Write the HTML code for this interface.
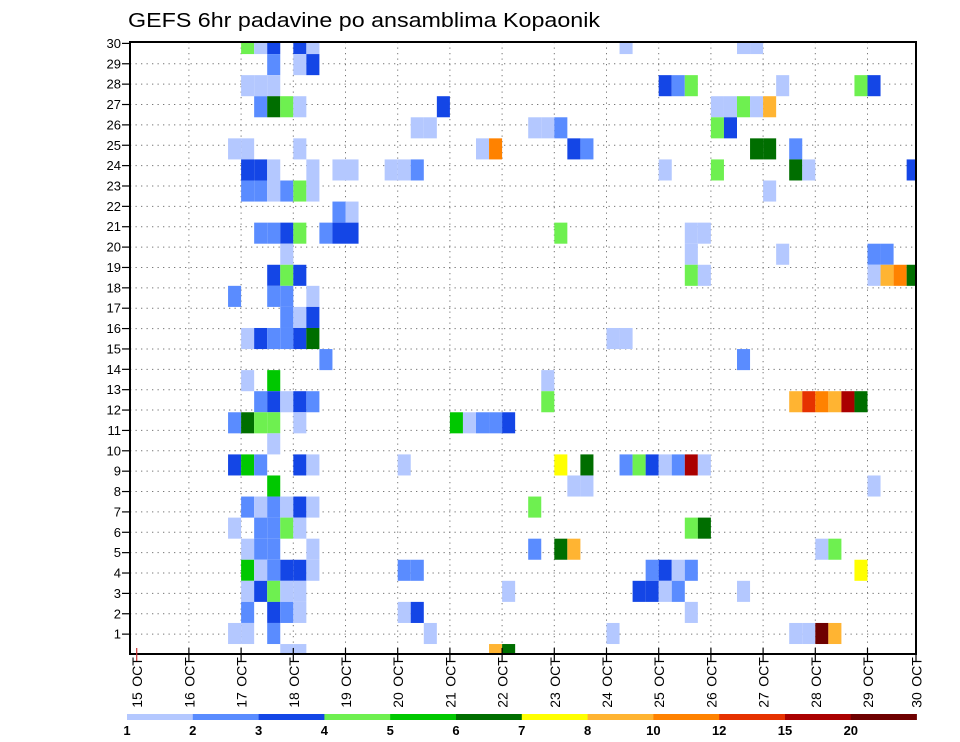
<!DOCTYPE html>
<html>
<head>
<meta charset="utf-8">
<style>
  html, body { margin: 0; padding: 0; background: #fff; }
  svg { display: block; font-family: "Liberation Sans", sans-serif; }
</style>
</head>
<body>
<svg id="chart" width="960" height="742" viewBox="0 0 960 742" xmlns="http://www.w3.org/2000/svg">
  <rect x="0" y="0" width="960" height="742" fill="#fff"/>
  <text x="128" y="27" font-size="20" textLength="472" lengthAdjust="spacingAndGlyphs" fill="#000">GEFS 6hr padavine po ansamblima Kopaonik</text>
  <defs>
    <clipPath id="plotClip"><rect x="130" y="42" width="786" height="612"/></clipPath>
  </defs>
  <g id="grid"></g>
  <g id="cells" clip-path="url(#plotClip)"></g>
  <rect x="130" y="42" width="786" height="612" fill="none" stroke="#000" stroke-width="2"/>
  <g id="yaxis"></g>
  <g id="xaxis"></g>
  <g id="legend"></g>
</svg>
<script>
// ---- chart data ----
const members = [29,28,27,26,25,24,23,22,21,20,19,18,17,16,15,14,13,12,11,10,9,8,7,6,5,4,3,2,1,0];
const stepsByMember = [
  [8,9,10,12,13,37,46,47],
  [10,12,13],
  [8,9,10,40,41,42,49,55,56],
  [9,10,11,12,23,44,45,46,47,48],
  [21,22,30,31,32,44,45],
  [7,8,12,26,27,33,34,47,48,50],
  [8,9,10,13,15,16,19,20,21,40,44,50,51,59],
  [8,9,10,11,12,13,48],
  [15,16],
  [9,10,11,12,14,15,16,32,42,43],
  [11,42,49,56,57],
  [10,11,12,42,43,56,57,58,59],
  [7,10,11,13],
  [11,12,13],
  [8,9,10,11,12,13,36,37],
  [14,46],
  [8,10,31],
  [9,10,11,12,13,31,50,51,52,53,54,55],
  [7,8,9,10,12,24,25,26,27,28],
  [10],
  [7,8,9,12,13,20,32,34,37,38,39,40,41,42,43],
  [10,33,34,56],
  [8,9,10,11,12,13,30],
  [7,9,10,11,12,42,43],
  [8,9,10,13,30,32,33,52,53],
  [8,9,10,11,12,13,20,21,39,40,41,42,55],
  [8,9,10,11,12,28,38,39,40,41,46],
  [8,10,11,12,20,21,42],
  [7,8,10,22,36,50,51,52,53],
  [11,12,27,28]
];
const precipByMember = [
  [4.5,1.5,3.5,3.5,1.5,1.5,1.5,1.5],
  [2.5,1.5,3.5],
  [1.5,1.5,1.5,3.5,2.5,4.5,1.5,4.5,3.5],
  [2.5,6.5,4.5,1.5,3.5,1.5,1.5,4.5,1.5,9],
  [1.5,1.5,1.5,1.5,2.5,4.5,3.5],
  [1.5,1.5,1.5,1.5,11,3.5,2.5,6.5,6.5,2.5],
  [3.5,3.5,1.5,1.5,1.5,1.5,1.5,1.5,2.5,1.5,4.5,6.5,1.5,3.5],
  [2.5,2.5,1.5,2.5,4.5,1.5,1.5],
  [2.5,1.5],
  [2.5,2.5,3.5,4.5,2.5,3.5,3.5,4.5,1.5,1.5],
  [1.5,1.5,1.5,2.5,2.5],
  [3.5,4.5,3.5,4.5,1.5,1.5,9,11,6.5],
  [2.5,2.5,2.5,1.5],
  [2.5,1.5,3.5],
  [1.5,3.5,2.5,2.5,3.5,6.5,1.5,1.5],
  [2.5,2.5],
  [1.5,5.5,1.5],
  [2.5,3.5,1.5,3.5,2.5,4.5,9,13.5,11,9,17.5,6.5],
  [2.5,6.5,4.5,4.5,1.5,5.5,1.5,2.5,2.5,3.5],
  [1.5],
  [3.5,5.5,2.5,3.5,1.5,1.5,7.5,6.5,2.5,4.5,3.5,1.5,2.5,17.5,1.5],
  [5.5,1.5,1.5,1.5],
  [2.5,1.5,2.5,1.5,3.5,1.5,4.5],
  [1.5,2.5,2.5,4.5,1.5,4.5,6.5],
  [1.5,2.5,2.5,1.5,2.5,6.5,9,1.5,4.5],
  [5.5,1.5,2.5,3.5,3.5,1.5,2.5,2.5,2.5,3.5,1.5,2.5,7.5],
  [1.5,3.5,4.5,1.5,1.5,1.5,3.5,3.5,1.5,2.5,1.5],
  [2.5,3.5,2.5,1.5,1.5,3.5,1.5],
  [1.5,1.5,2.5,1.5,1.5,1.5,1.5,22,9],
  [1.5,1.5,9,6.5]
];
const levels = [1,2,3,4,5,6,7,8,10,12,15,20];
const levelColors = ["#b4c8ff","#5a8cff","#1446e6","#6ef050","#00c800","#006e00","#ffff00","#ffb432","#ff8200","#e63200","#aa0000","#6e0000"];
const dayLabels = ["15","16","17","18","19","20","21","22","23","24","25","26","27","28","29","30"];
const yTickLabels = [1,2,3,4,5,6,7,8,9,10,11,12,13,14,15,16,17,18,19,20,21,22,23,24,25,26,27,28,29,30];

// ---- scales ----
const NS = "http://www.w3.org/2000/svg";
const X0 = 136.7, STEP_W = 13.05, DAY_W = 52.2;
function xStep(c) { return X0 + STEP_W * c; }
function xDay(d) { return d >= 15 ? 916 : X0 + DAY_W * d; }
const CELL_H = 21.07;
function yMemberTop(m) { return 33 + CELL_H * (29 - m); }
function yLabel(n) { return 654.5 - n * 20.37; }
function colorFor(v) {
  let idx = 0;
  for (let i = 0; i < levels.length; i++) if (v >= levels[i]) idx = i;
  return levelColors[idx];
}
function mk(tag, attrs, parent) {
  const el = document.createElementNS(NS, tag);
  for (const k in attrs) el.setAttribute(k, attrs[k]);
  parent.appendChild(el);
  return el;
}

// ---- grid ----
const grid = document.getElementById("grid");
for (let n = 1; n <= 29; n++) {
  const ln = mk("line", {x1: 130, x2: 916, y1: yLabel(n), y2: yLabel(n), stroke: "#777", "stroke-width": 1, "stroke-dasharray": "1.3,4.2"}, grid);
  
  
}
for (let d = 1; d < 15; d++) {
  const ln = mk("line", {x1: xDay(d), x2: xDay(d), y1: 42, y2: 654, stroke: "#777", "stroke-width": 1, "stroke-dasharray": "1.3,4.2"}, grid);
  
  
}

// ---- cells ----
const cells = document.getElementById("cells");
members.forEach((m, i) => {
  const steps = stepsByMember[i], vals = precipByMember[i];
  steps.forEach((c, j) => {
    const r = mk("rect", {x: xStep(c), y: yMemberTop(m), width: STEP_W, height: CELL_H, fill: colorFor(vals[j])}, cells);
    
    
  });
});

// ---- y axis ----
const yaxis = document.getElementById("yaxis");
yTickLabels.forEach(n => {
  const y = yLabel(n);
  const t = mk("line", {x1: 122, x2: 131, y1: y, y2: y, stroke: "#000", "stroke-width": 1.2}, yaxis);
  
  
  const tx = mk("text", {x: 121, y: y + 4.5, "font-size": 13, "text-anchor": "end", fill: "#000"}, yaxis);
  tx.textContent = n;
  
  
});

// ---- x axis ----
const xaxis = document.getElementById("xaxis");
dayLabels.forEach((lab, d) => {
  const x = xDay(d);
  const t = mk("line", {x1: x, x2: x, y1: 648, y2: 661, stroke: d === 0 ? "#c33" : "#000", "stroke-width": 1.2}, xaxis);
  
  
  const t1 = mk("text", {transform: "translate(" + (x + 0.5) + ",672) rotate(-90)", "font-size": 14, "text-anchor": "middle", dy: "0.36em", fill: "#000"}, xaxis);
  t1.textContent = "OCT";
  
  
  const t2 = mk("text", {transform: "translate(" + (x + 0.5) + ",700) rotate(-90)", "font-size": 14, "text-anchor": "middle", dy: "0.36em", fill: "#000"}, xaxis);
  t2.textContent = lab;
  
  
});

// ---- legend ----
const legend = document.getElementById("legend");
const LX = 127, LW = 65.8;
levelColors.forEach((col, i) => {
  const r = mk("rect", {x: LX + LW * i, y: 714, width: LW + 0.3, height: 6, fill: col}, legend);
  
  
});
levels.forEach((lv, i) => {
  const t = mk("text", {x: LX + LW * i, y: 735, "font-size": 13, "font-weight": "bold", "text-anchor": "middle", fill: "#000"}, legend);
  t.textContent = lv;
  
  
});
</script>
</body>
</html>
